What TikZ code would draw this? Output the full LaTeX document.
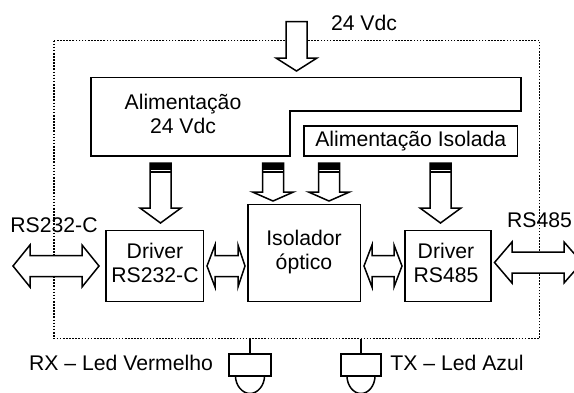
\documentclass[tikz,border=0pt]{standalone}
\usepackage{fontspec}
\setmainfont{Liberation Sans}
\tikzset{
  x=1pt,y=-1pt,
  blk/.style={draw=black,line width=1.5pt,fill=white,line join=miter},
  arr/.style={draw=black,line width=1.5pt,fill=white,line join=miter},
  txt/.style={inner sep=0pt,align=center,font=\fontsize{21.2}{24.5}\selectfont},
  boxn/.style={draw=black,line width=1.5pt,fill=white,inner sep=0pt,minimum width=#1},
  dotline/.style={draw=black,line width=1.7pt,dash pattern=on 1.6pt off 1.5pt},
  band/.style={fill=black,draw=none},
}
\newcommand{\downarr}[4]{% cx, top, shoulder, tip
  \draw[arr] (#1-10.5,#2) -- (#1+10.5,#2) -- (#1+10.5,#3) -- (#1+20.5,#3) -- (#1,#4) -- (#1-20.5,#3) -- (#1-10.5,#3) -- cycle;
}
\newcommand{\bandtop}[2]{% cx, top
  \fill[band] (#1-11,#2-.5) rectangle (#1+11,#2+6.5);
  \draw[white,line width=1pt] (#1-9.5,#2+7.5) -- (#1+9.5,#2+7.5);
  \draw[black,line width=1.2pt] (#1-10.5,#2+9) -- (#1+10.5,#2+9);
}
\newcommand{\dblarr}[7]{% xl, notch l, notch r, xr, cy, shaft half, head half
  \draw[arr] (#1,#5) -- (#2,#5-#7) -- (#2,#5-#6) -- (#3,#5-#6) -- (#3,#5-#7) -- (#4,#5) -- (#3,#5+#7) -- (#3,#5+#6) -- (#2,#5+#6) -- (#2,#5+#7) -- cycle;
}
\newcommand{\ledshape}[4]{% cx, left, right, dome half
  \draw[blk] (#1,338.5) -- (#1,354);
  \draw[blk] (#1-#4,376) .. controls (#1-#4,385.4) and (#1-7.7,393.5) .. (#1,393.5) .. controls (#1+7.7,393.5) and (#1+#4,385.4) .. (#1+#4,376);
  \draw[blk] (#2,354) rectangle (#3,376);
}
\begin{document}
\begin{tikzpicture}
\useasboundingbox (0,0) rectangle (574,392);
\clip (0,0) rectangle (574,392);
\draw[dotline] (54,40.5) rectangle (539.5,338.5);
\node[txt] (v24) at (364,23) {24 Vdc};
\downarr{296.5}{21.5}{58}{71}
\draw[blk] (91,77.5) -- (521,77.5) -- (521,111) -- (290,111) -- (290,156) -- (91,156) -- cycle;
\node[txt] (al) at (183,114) {Alimentação\\24 Vdc};
\node[boxn=213.5pt,minimum height=30pt] (iso) at (410.75,141) {};
\node[txt] (isot) at (iso.center) {Alimentação Isolada};
\downarr{160.5}{163}{208}{223}\bandtop{160.5}{163}
\downarr{273}{163}{192}{201}\bandtop{273}{163}
\downarr{329}{163}{192}{201}\bandtop{329}{163}
\downarr{440.5}{163}{208}{223}\bandtop{440.5}{163}
\node[boxn=97.5pt,minimum height=71pt] (d1) at (154.75,266) {};
\node[boxn=112.5pt,minimum height=97pt] (is) at (304.25,253) {};
\node[boxn=86pt,minimum height=71pt] (d2) at (448,266) {};
\node[txt] (d1t) at (155,263) {Driver\\RS232-C};
\node[txt] (ist) at (304,252) {Isolador\\óptico};
\node[txt] (d2t) at (446,263) {Driver\\RS485};
\dblarr{13}{30}{82}{99}{266}{10.5}{21}
\dblarr{207}{215}{238}{245}{266}{10.5}{21}
\dblarr{364}{372}{394}{402}{266}{10.5}{21}
\dblarr{494.5}{512}{564}{582}{262.5}{10.5}{20.5}
\node[txt] (r1) at (54,225) {RS232-C};
\node[txt] (r2) at (539.5,220.5) {RS485};
\ledshape{250}{229}{271}{14.5}
\ledshape{361}{341}{381}{14}
\node[txt] (rx) at (121,363) {RX – Led Vermelho};
\node[txt] (tx) at (457,363) {TX – Led Azul};
\end{tikzpicture}
\end{document}
